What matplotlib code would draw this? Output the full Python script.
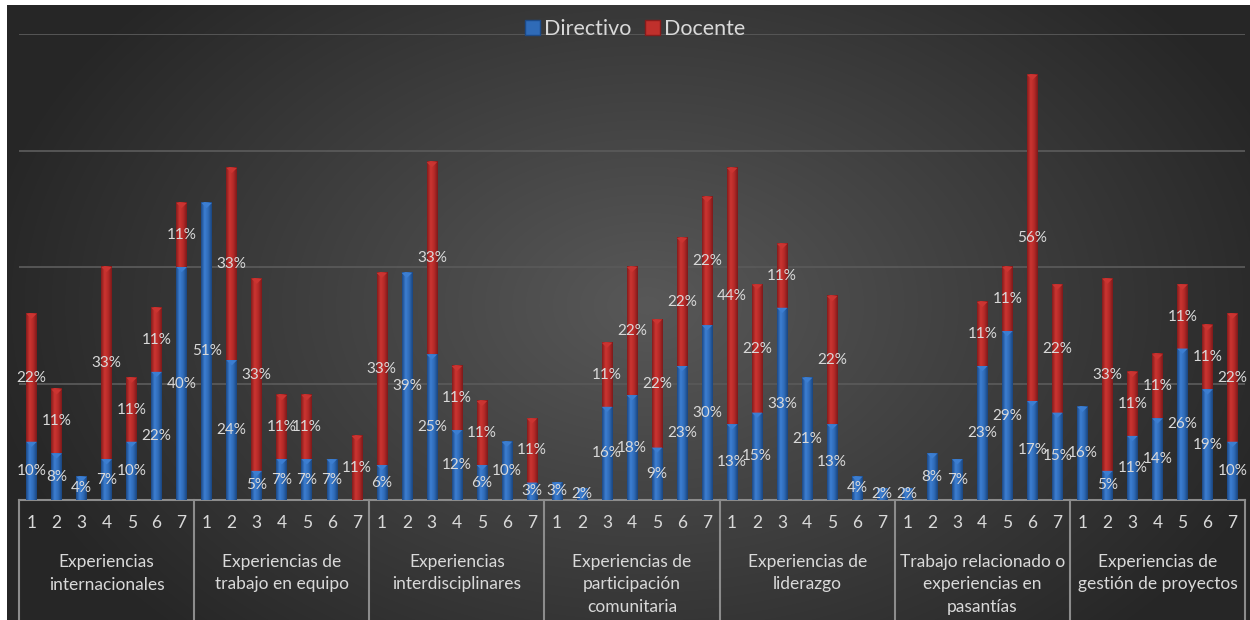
import numpy as np
import matplotlib.pyplot as plt
from matplotlib.colors import LinearSegmentedColormap
from matplotlib.lines import Line2D
from matplotlib.patches import Patch

plt.rcParams['font.family'] = ['Lato', 'DejaVu Sans']

grupos = ["Experiencias\ninternacionales",
          "Experiencias de\ntrabajo en equipo",
          "Experiencias\ninterdisciplinares",
          "Experiencias de\nparticipación\ncomunitaria",
          "Experiencias de\nliderazgo",
          "Trabajo relacionado o\nexperiencias en\npasantías",
          "Experiencias de\ngestión de proyectos"]
niveles = ["1", "2", "3", "4", "5", "6", "7"]

# porcentaje por nivel (1..7) dentro de cada grupo
directivo = [[10, 8, 4, 7, 10, 22, 40],
             [51, 24, 5, 7, 7, 7, 0],
             [6, 39, 25, 12, 6, 10, 3],
             [3, 2, 16, 18, 9, 23, 30],
             [13, 15, 33, 21, 13, 4, 2],
             [2, 8, 7, 23, 29, 17, 15],
             [16, 5, 11, 14, 26, 19, 10]]
docente = [[22, 11, 0, 33, 11, 11, 11],
           [0, 33, 33, 11, 11, 0, 11],
           [33, 0, 33, 11, 11, 0, 11],
           [0, 0, 11, 22, 22, 22, 22],
           [44, 22, 11, 0, 22, 0, 0],
           [0, 0, 0, 11, 11, 56, 22],
           [0, 33, 11, 11, 11, 11, 22]]

W, H = 1250, 620
fig = plt.figure(figsize=(W / 100, H / 100), dpi=100)
fig.patch.set_facecolor('white')

# fondo con degradado radial
bg = fig.add_axes([7 / W, 0, 1 - 7 / W, 615 / H])
bg.axis('off')
yy, xx = np.mgrid[0:615, 0:1243]
r = np.sqrt(((xx - 640) / 760.0) ** 2 + ((yy - 300) / 520.0) ** 2)
shade = np.clip(0.345 - 0.22 * r, 0.15, 0.4)
bg.imshow(np.dstack([shade] * 3), aspect='auto', extent=(0, 1, 0, 1), origin='upper')
bg.set_xlim(0, 1)
bg.set_ylim(0, 1)

ax = fig.add_axes([19 / W, 120 / H, (1245 - 19) / W, (500 - 34) / H])
ax.patch.set_alpha(0)
for s in ax.spines.values():
    s.set_visible(False)

dir_flat = [v for g in directivo for v in g]
doc_flat = [v for g in docente for v in g]
n = len(dir_flat)
x = np.arange(n)
ancho = 0.42

for yv in (20, 40, 60, 80):
    ax.axhline(yv, color='#595959', lw=1.3, zorder=1)

azul = LinearSegmentedColormap.from_list('azul', ['#1c4a88', '#3d7fd2', '#2f6bb8', '#1a4680'])
rojo = LinearSegmentedColormap.from_list('rojo', ['#861c1c', '#cc3531', '#b52a28', '#7e1a1a'])
grad = np.linspace(0, 1, 32).reshape(1, -1)


def segmento(xc, y0, alto, cmap):
    if alto <= 0:
        return
    ax.imshow(grad, cmap=cmap, aspect='auto', zorder=3,
              extent=(xc - ancho / 2, xc + ancho / 2, y0, y0 + alto))
    # tapa superior con bisel claro
    ax.fill([xc - ancho / 2, xc + ancho / 2, xc], [y0 + alto, y0 + alto, y0 + alto - 0.9],
            color=cmap(0.35), zorder=4, lw=0)


for i in range(n):
    segmento(x[i], 0, dir_flat[i], azul)
    segmento(x[i], dir_flat[i], doc_flat[i], rojo)

etiqueta = dict(ha='center', va='center', color='#d9d9d9', fontsize=11, zorder=5)
for i in range(n):
    if dir_flat[i]:
        ax.text(x[i], dir_flat[i] / 2, f"{dir_flat[i]}%", **etiqueta)
    if doc_flat[i]:
        ax.text(x[i], dir_flat[i] + doc_flat[i] / 2, f"{doc_flat[i]}%", **etiqueta)

ax.set_xlim(-0.5, n - 0.5)
ax.set_ylim(0, 80)
ax.set_xticks([])
ax.set_yticks([])

# tabla de categorías bajo el eje
tr = ax.get_xaxis_transform()
fondo = -120 / 466
ax.add_line(Line2D([-0.5, n - 0.5], [0, 0], transform=tr, color='#8c8c8c', lw=1.5, clip_on=False))
for k in range(len(grupos) + 1):
    xb = k * 7 - 0.5
    ax.add_line(Line2D([xb, xb], [0, fondo], transform=tr, color='#8c8c8c', lw=1.5, clip_on=False))
for i in range(n):
    ax.text(x[i], -23 / 466, niveles[i % 7], transform=tr, ha='center', va='center',
            color='#d9d9d9', fontsize=12.5)
for k, nombre in enumerate(grupos):
    ax.text(k * 7 + 3, -54 / 466, nombre, transform=tr, ha='center', va='top',
            color='#d9d9d9', fontsize=12.5, linespacing=1.5)

leg = fig.legend(handles=[Patch(facecolor='#2f6bb8', edgecolor='#1c4a88', label='Directivo'),
                          Patch(facecolor='#c0302c', edgecolor='#861c1c', label='Docente')],
                 loc='center', bbox_to_anchor=(635 / W, 1 - 29 / H), ncol=2, frameon=False,
                 fontsize=15.5, handlelength=0.7, handleheight=0.7, handletextpad=0.2,
                 columnspacing=0.6, labelcolor='#d9d9d9')

fig.savefig('out.png', dpi=100, facecolor=fig.get_facecolor())
